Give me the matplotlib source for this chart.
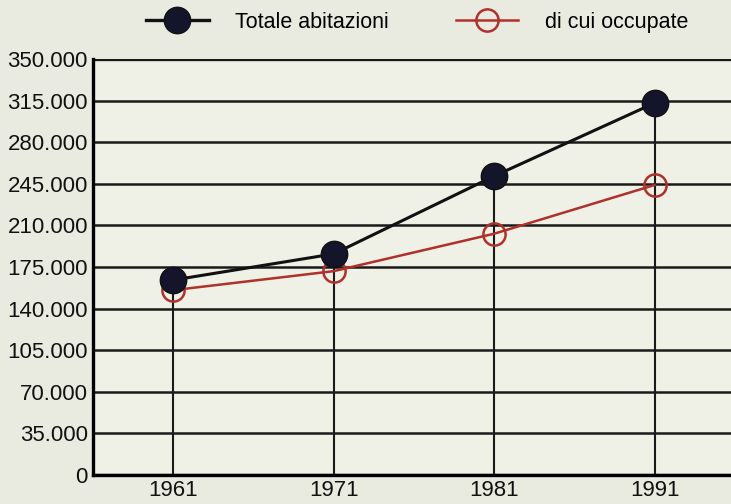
import matplotlib
matplotlib.use("Agg")
import matplotlib.pyplot as plt
from matplotlib.lines import Line2D

# ------------------------------------------
# Data
# ------------------------------------------

years = [1961, 1971, 1981, 1991]
totale = [164000, 186000, 251500, 313000]
occupate = [155500, 171500, 203000, 244000]
y_ticks = [0, 35000, 70000, 105000, 140000, 175000, 210000, 245000, 280000, 315000, 350000]

plt.rcParams["font.family"] = ["Liberation Sans", "DejaVu Sans"]

fig = plt.figure(figsize=(7.31, 5.04), dpi=100)
fig.patch.set_facecolor("#e9ebe0")

ax = fig.add_axes([0.127, 0.0575, 0.873, 0.8255])
ax.set_facecolor("#eff1e6")

# grid
for v in y_ticks:
    lw = 2.4 if v in (0, 350000) else 1.8
    ax.axhline(v, color="#1a1a1a", lw=lw, zorder=1)

# drop lines
ax.vlines(years, 0, totale, color="#1a1a1a", lw=1.5, zorder=1)

ax.plot(years, occupate, color="#b0302a", lw=1.8, marker="o", ms=16,
        mfc="none", mec="#b0302a", mew=1.8, zorder=3)
ax.plot(years, totale, color="#111111", lw=2.2, marker="o", ms=19,
        mfc="#14142a", mec="#111111", zorder=4)

ax.set_xlim(1956, 1995.75)
ax.set_ylim(0, 350000)
ax.set_xticks(years)
ax.set_xticklabels([str(y) for y in years])
ax.set_yticks(y_ticks)
ax.set_yticklabels([f"{v:,}".replace(",", ".") for v in y_ticks])
ax.tick_params(length=0, labelsize=16, pad=3.5, colors="#111111")

for side in ["right", "top"]:
    ax.spines[side].set_visible(False)
ax.spines["left"].set_linewidth(2.4)
ax.spines["bottom"].set_linewidth(2.4)

handles = [
    Line2D([0], [0], color="#111111", lw=2.4, marker="o", ms=19,
           mfc="#14142a", mec="#111111"),
    Line2D([0], [0], color="#b0302a", lw=1.8, marker="o", ms=16,
           mfc="none", mec="#b0302a", mew=1.8),
]
fig.legend(handles, ["Totale abitazioni", "di cui occupate"],
           loc="center", bbox_to_anchor=(0.571, 0.956), ncol=2,
           frameon=False, fontsize=15.5, handlelength=2.9,
           handletextpad=1.25, columnspacing=3.1)

plt.savefig("out.png", dpi=100, facecolor=fig.get_facecolor())
